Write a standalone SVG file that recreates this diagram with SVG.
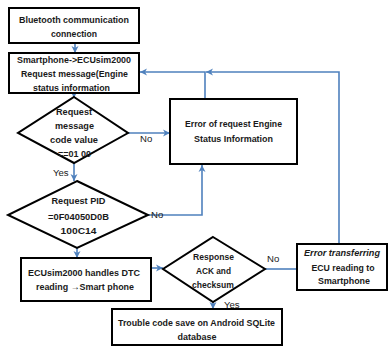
<svg xmlns="http://www.w3.org/2000/svg" width="388" height="350" viewBox="0 0 388 350">
<style>
.box{fill:#fff;stroke:#000;stroke-width:2}
.t{font-family:"Liberation Sans",Arial,sans-serif;font-size:9.6px;font-weight:bold;fill:#1a1a1a;text-anchor:middle}
.l{font-family:"Liberation Sans",Arial,sans-serif;font-size:9.6px;fill:#1a1a1a}
.c{fill:none;stroke:#4F81BD;stroke-width:1.6}
</style>
<defs>
<marker id="ar" markerWidth="8" markerHeight="8" refX="7" refY="4" orient="auto" markerUnits="userSpaceOnUse">
<path d="M0,0.5 L7,4 L0,7.5 L2,4 Z" fill="#4F81BD"/>
</marker>
</defs>
<rect width="388" height="350" fill="#fff"/>
<g id="connectors">
<path class="c" d="M75,43 V53" marker-end="url(#ar)"/>
<path class="c" d="M74,93 V98" marker-end="url(#ar)"/>
<path class="c" d="M128,133 H170" marker-end="url(#ar)"/>
<path class="c" d="M74,163 V181" marker-end="url(#ar)"/>
<path class="c" d="M148,215 H202 V165" marker-end="url(#ar)"/>
<path class="c" d="M205,99 V72 H140" marker-end="url(#ar)"/>
<path class="c" d="M339,244 V72 H206" marker-end="url(#ar)"/>
<path class="c" d="M77,248 V258" marker-end="url(#ar)"/>
<path class="c" d="M151,268 H163" marker-end="url(#ar)"/>
<path class="c" d="M265,269 H297"/>
<path class="c" d="M213,302 V309" marker-end="url(#ar)"/>
<text class="l" x="140" y="142">No</text>
<text class="l" x="53" y="176">Yes</text>
<text class="l" x="151" y="218">No</text>
<text class="l" x="267" y="262">No</text>
<text class="l" x="224" y="308">Yes</text>
</g>
<g id="n1">
<rect class="box" x="9" y="8" width="130" height="35"/>
<text class="t" x="74" y="23" textLength="110" lengthAdjust="spacingAndGlyphs">Bluetooth communication</text>
<text class="t" x="74" y="37" textLength="46" lengthAdjust="spacingAndGlyphs">connection</text>
</g>
<g id="n2">
<rect class="box" x="9" y="53" width="130" height="40"/>
<text class="t" x="74" y="63" textLength="114" lengthAdjust="spacingAndGlyphs">Smartphone-&gt;ECUsim2000</text>
<text class="t" x="74.5" y="77" textLength="107" lengthAdjust="spacingAndGlyphs">Request message(Engine</text>
<text class="t" x="71.5" y="91" textLength="77" lengthAdjust="spacingAndGlyphs">status information</text>
</g>
<g id="d1">
<polygon class="box" points="74,97 128,133 74,163 18,133"/>
<text class="t" x="74" y="115" textLength="36" lengthAdjust="spacingAndGlyphs">Request</text>
<text class="t" x="74.5" y="129" textLength="39" lengthAdjust="spacingAndGlyphs">message</text>
<text class="t" x="74" y="143" textLength="48" lengthAdjust="spacingAndGlyphs">code value</text>
<text class="t" x="74.5" y="157" textLength="33" lengthAdjust="spacingAndGlyphs">==01 00</text>
</g>
<g id="n3">
<rect class="box" x="170" y="99" width="127" height="65"/>
<text class="t" x="233.5" y="127" textLength="97" lengthAdjust="spacingAndGlyphs">Error of request Engine</text>
<text class="t" x="233.5" y="142" textLength="79" lengthAdjust="spacingAndGlyphs">Status Information</text>
</g>
<g id="d2">
<polygon class="box" points="77,181 148,215 77,248 8,215"/>
<text class="t" x="78.5" y="204" textLength="54" lengthAdjust="spacingAndGlyphs">Request PID</text>
<text class="t" x="78.5" y="220" textLength="61" lengthAdjust="spacingAndGlyphs">=0F04050D0B</text>
<text class="t" x="78.5" y="234" textLength="36" lengthAdjust="spacingAndGlyphs">100C14</text>
</g>
<g id="n4">
<rect class="box" x="21" y="258" width="130" height="43"/>
<text class="t" x="84" y="276" textLength="112" lengthAdjust="spacingAndGlyphs">ECUsim2000 handles  DTC</text>
<text class="t" x="85" y="290" textLength="98" lengthAdjust="spacingAndGlyphs">reading →Smart phone</text>
</g>
<g id="d3">
<polygon class="box" points="213,237 265,269 213,302 163,269"/>
<text class="t" x="213.5" y="260" textLength="41" lengthAdjust="spacingAndGlyphs">Response</text>
<text class="t" x="213.5" y="274" textLength="35" lengthAdjust="spacingAndGlyphs">ACK and</text>
<text class="t" x="213" y="288" textLength="42" lengthAdjust="spacingAndGlyphs">checksum</text>
</g>
<g id="n5">
<rect class="box" x="297" y="244" width="90" height="46"/>
<text class="t" x="342" y="256" font-style="italic" textLength="76" lengthAdjust="spacingAndGlyphs">Error transferring</text>
<text class="t" x="343" y="271" textLength="63" lengthAdjust="spacingAndGlyphs">ECU reading to</text>
<text class="t" x="344" y="284" textLength="52" lengthAdjust="spacingAndGlyphs">Smartphone</text>
</g>
<g id="n6">
<rect class="box" x="112" y="309" width="170" height="36"/>
<text class="t" x="196.5" y="326" textLength="157" lengthAdjust="spacingAndGlyphs">Trouble code save on Android  SQLite</text>
<text class="t" x="197" y="340" textLength="39" lengthAdjust="spacingAndGlyphs">database</text>
</g>
</svg>
